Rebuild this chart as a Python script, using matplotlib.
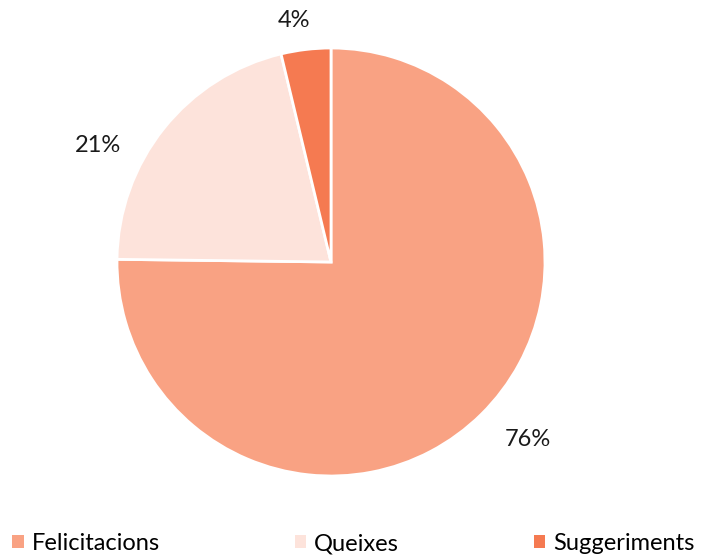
import numpy as np
import matplotlib.pyplot as plt
from matplotlib.patches import Patch

plt.rcParams['font.family'] = ['Lato', 'DejaVu Sans']

categories = ['Felicitacions', 'Queixes', 'Suggeriments']
values = [75.2, 21.05, 3.75]
pct_labels = ['76%', '21%', '4%']
colors = ['#F9A283', '#FDE3DB', '#F57A51']

fig = plt.figure(figsize=(7.07, 5.56), dpi=100)
W, H = 707, 556
cx, cy, r = 331, 262, 214
ax = fig.add_axes([(cx - r) / W, (H - cy - r) / H, 2 * r / W, 2 * r / H])

wedges, _ = ax.pie(values, colors=colors, startangle=90, counterclock=False,
                   wedgeprops=dict(edgecolor='white', linewidth=2))

# label placement (Excel "best fit" style): distance and angular nudge per label
dists = [1.24, 1.22, 1.14]
nudges = [3.4, 12, 2]
for w, lab, d, n in zip(wedges, pct_labels, dists, nudges):
    ang = np.deg2rad((w.theta1 + w.theta2) / 2 + n)
    ax.text(d * np.cos(ang), d * np.sin(ang), lab, ha='center', va='center',
            fontsize=17, color='#1a1a1a')

ax.set_xlim(-1, 1)
ax.set_ylim(-1, 1)
ax.set_aspect('equal')

handles = [Patch(facecolor=c, edgecolor='none') for c in colors]
fig.legend(handles, categories, ncol=3, loc='lower center', bbox_to_anchor=(0.5, -0.035),
           frameon=False, fontsize=17, columnspacing=5.7, handlelength=0.48,
           handleheight=0.48, handletextpad=0.35)

fig.savefig('out.png', dpi=100)
